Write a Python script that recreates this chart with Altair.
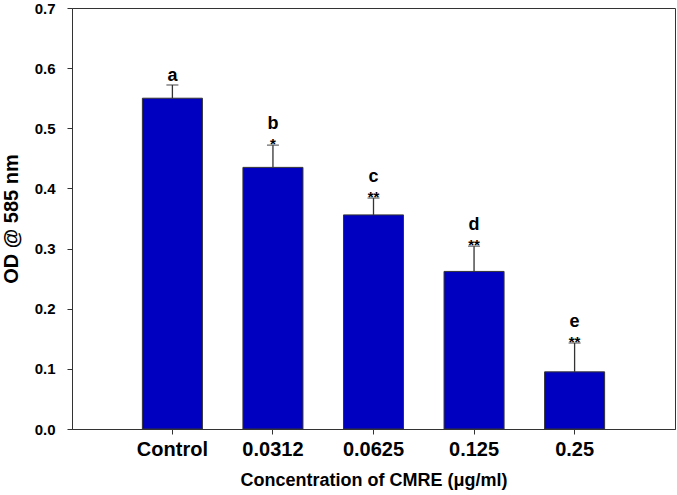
import altair as alt
import pandas as pd

# Absorbance readings per treatment group
groups = ["Control", "0.0312", "0.0625", "0.125", "0.25"]
od_mean = [0.550, 0.435, 0.356, 0.262, 0.095]
od_err = [0.022, 0.037, 0.028, 0.042, 0.048]
letters = ["a", "b", "c", "d", "e"]
stars = ["", "*", "**", "**", "**"]

df = pd.DataFrame({
    "group": groups,
    "od": od_mean,
    "upper": [m + e for m, e in zip(od_mean, od_err)],
    "letter": letters,
    "stars": stars,
})
df["has_star"] = df["stars"] != ""

FONT = "Liberation Sans"

x = alt.X(
    "group:N",
    sort=groups,
    scale=alt.Scale(paddingInner=0.403, paddingOuter=0.7),
    axis=alt.Axis(
        title="Concentration of CMRE (\u03bcg/ml)",
        labelAngle=0,
        labelFontSize=20,
        labelFontWeight="bold",
        labelColor="black",
        labelPadding=5,
        titleFontSize=18,
        titleFontWeight="bold",
        titleColor="black",
        titlePadding=12,
        tickSize=5,
        tickColor="#333",
        domainColor="#333",
        grid=False,
    ),
)

y_scale = alt.Scale(domain=[0, 0.7], nice=False)
y = alt.Y(
    "od:Q",
    scale=y_scale,
    axis=alt.Axis(
        title="OD @ 585 nm",
        values=[0, 0.1, 0.2, 0.3, 0.4, 0.5, 0.6, 0.7],
        format=".1f",
        labelFontSize=15,
        labelFontWeight="bold",
        labelColor="black",
        labelPadding=12,
        titleFontSize=20,
        titleFontWeight="bold",
        titleColor="black",
        titlePadding=13,
        tickSize=5,
        tickColor="#333",
        domainColor="#333",
        grid=False,
    ),
)

base = alt.Chart(df)

bars = base.mark_bar(color="#0000C0", stroke="#333", strokeWidth=1).encode(x=x, y=y)

err_line = base.mark_rule(color="#333", strokeWidth=1.3).encode(
    x=alt.X("group:N", sort=groups),
    y=alt.Y("od:Q", scale=y_scale),
    y2="upper:Q",
)

err_cap = base.mark_tick(color="#333", size=12, thickness=1.3).encode(
    x=alt.X("group:N", sort=groups),
    y=alt.Y("upper:Q", scale=y_scale),
)

star_text = base.transform_filter("datum.has_star").mark_text(
    font=FONT, fontSize=15, fontWeight="bold", color="black",
    baseline="alphabetic", dy=4,
).encode(
    x=alt.X("group:N", sort=groups),
    y=alt.Y("upper:Q", scale=y_scale),
    text="stars:N",
)

letter_a = base.transform_filter("!datum.has_star").mark_text(
    font=FONT, fontSize=18, fontWeight="bold", color="black",
    baseline="alphabetic", dy=-4,
).encode(
    x=alt.X("group:N", sort=groups),
    y=alt.Y("upper:Q", scale=y_scale),
    text="letter:N",
)

letter_rest = base.transform_filter("datum.has_star").mark_text(
    font=FONT, fontSize=18, fontWeight="bold", color="black",
    baseline="alphabetic", dy=-16,
).encode(
    x=alt.X("group:N", sort=groups),
    y=alt.Y("upper:Q", scale=y_scale),
    text="letter:N",
)

chart = (
    alt.layer(bars, err_line, err_cap, star_text, letter_a, letter_rest)
    .properties(
        width=603,
        height=421,
        autosize=alt.AutoSizeParams(type="none"),
        padding={"left": 72, "top": 8, "right": 2, "bottom": 66},
    )
    .configure(font=FONT)
    .configure_view(stroke="#333", strokeWidth=1)
)

chart.save("out.html", embed_options={"renderer": "svg", "actions": False})
